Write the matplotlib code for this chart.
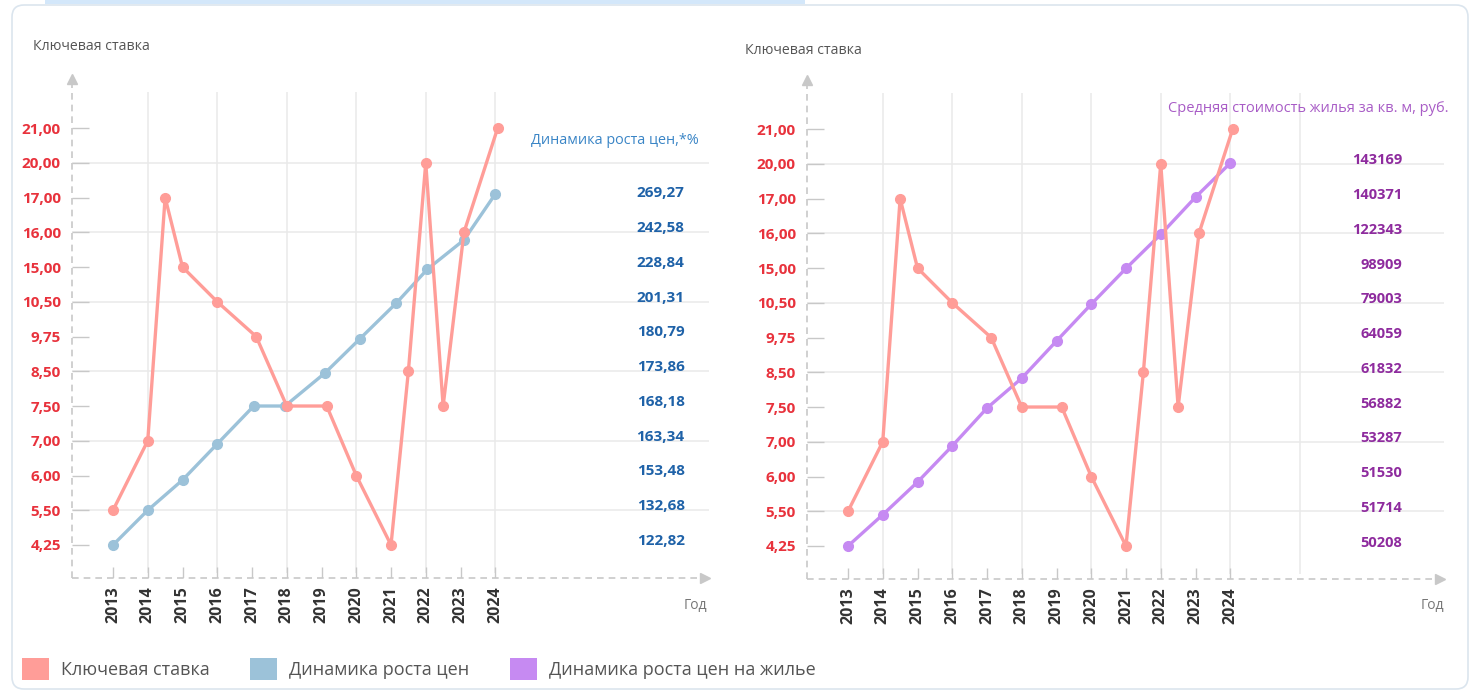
import matplotlib
matplotlib.use("Agg")
import matplotlib.pyplot as plt
from matplotlib.patches import FancyBboxPatch, Rectangle, Patch

plt.rcParams["font.family"] = ["Open Sans", "DejaVu Sans"]

# Category levels of the key-rate axis (evenly spaced, bottom to top)
level_values = [4.25, 5.50, 6.00, 7.00, 7.50, 8.50, 9.75, 10.50, 15.00, 16.00, 17.00, 20.00, 21.00]
level_labels = ["4,25", "5,50", "6,00", "7,00", "7,50", "8,50", "9,75", "10,50",
                "15,00", "16,00", "17,00", "20,00", "21,00"]
years = list(range(2013, 2025))

# Key rate changes (time position, rate)
key_x = [2013.0, 2014.0, 2014.5, 2015.0, 2016.0, 2017.12, 2018.0, 2019.15,
         2020.0, 2021.0, 2021.5, 2022.0, 2022.5, 2023.1, 2024.07]
key_rate = [5.50, 7.00, 17.00, 15.00, 10.50, 9.75, 7.50, 7.50,
            6.00, 4.25, 8.50, 20.00, 7.50, 16.00, 21.00]

# Price growth dynamics, plotted position on the level scale
price_x = [2013, 2014, 2015, 2016, 2017.05, 2017.95, 2019.1, 2020.1, 2021.15, 2022.05, 2023.1, 2024.0]
price_pos = [0.0, 1.0, 1.87, 2.91, 4.0, 4.0, 4.95, 5.93, 6.96, 7.94, 8.78, 10.1]
price_labels = ["122,82", "132,68", "153,48", "163,34", "168,18", "173,86",
                "180,79", "201,31", "228,84", "242,58", "269,27"]

# Housing price dynamics, plotted position on the level scale
housing_x = years
housing_pos = [0.0, 0.9, 1.84, 2.88, 3.97, 4.83, 5.9, 6.96, 7.99, 8.97, 10.04, 11.02]
housing_labels = ["50208", "51714", "51530", "53287", "56882", "61832",
                  "64059", "79003", "98909", "122343", "140371", "143169"]

RED = "#ff9d98"
RED_TXT = "#e8323c"
BLUE = "#9cc2d9"
PURPLE = "#c68af2"
GRID = "#e9e9e9"
AXC = "#c8c8c8"

W, H = 1477, 691
fig = plt.figure(figsize=(W / 100, H / 100), dpi=100)

# card frame and top tab
fig.add_artist(FancyBboxPatch((0.12, 0.02), 14.56, 6.84, boxstyle="round,pad=0,rounding_size=0.12",
                              transform=fig.dpi_scale_trans, fc="none", ec="#dbe5ee", lw=1.2,
                              zorder=-5))
fig.add_artist(Rectangle((0.45, 6.87), 7.6, 0.06, transform=fig.dpi_scale_trans,
                         fc="#d3e7fa", ec="none", zorder=-5))

key_idx = [level_values.index(r) for r in key_rate]
xmin, xmax = 2011.82, 2030.3
ymin, ymax = -0.95, 13.7


def make_axes(left_px, bottom_px, top_px, grid_years):
    width_px = (xmax - xmin) * 34.75
    ax = fig.add_axes([left_px / W, 1 - bottom_px / H, width_px / W, (bottom_px - top_px) / H])
    ax.set_xlim(xmin, xmax)
    ax.set_ylim(ymin, ymax)
    for s in ax.spines.values():
        s.set_visible(False)
    ax.patch.set_alpha(0)
    # grid
    ax.hlines([1, 3, 5, 7, 9, 11], xmin, 2030.15, color=GRID, lw=1.1, clip_on=False, zorder=0)
    ax.vlines(grid_years, -0.8, 13.04, color=GRID, lw=1.1, zorder=0)
    ax.vlines(years, ymin, -0.62, color=AXC, lw=1.0, zorder=1)
    # dashed axes with arrows
    ax.plot([xmin, xmin], [ymin, 13.3], ls=(0, (4, 3)), color=AXC, lw=1.2, clip_on=False)
    ax.plot([xmin], [13.42], marker="^", ms=7, color=AXC, clip_on=False)
    ax.plot([xmin, 2029.9], [ymin, ymin], ls=(0, (4, 3)), color=AXC, lw=1.2, clip_on=False)
    ax.plot([2030.05], [ymin], marker=">", ms=7, color=AXC, clip_on=False)
    # ticks
    ax.set_yticks(range(len(level_labels)))
    ax.set_yticklabels(level_labels, color=RED_TXT, fontweight="bold", fontsize=11)
    ax.tick_params(axis="y", direction="in", length=12, color=AXC, width=1, pad=8)
    ax.set_xticks(years)
    ax.set_xticklabels([str(y) for y in years], rotation=90, fontweight="bold",
                       fontsize=11.5, color="#333333")
    ax.tick_params(axis="x", length=0, pad=6)
    # key rate
    ax.plot(key_x, key_idx, color=RED, lw=2.4, marker="o", ms=7, zorder=4, clip_on=False)
    return ax


ax1 = make_axes(72, 578, 69, list(range(2014, 2025, 2)))
ax1.plot(price_x, price_pos, color=BLUE, lw=2.4, marker="o", ms=7, zorder=3)
for i, lab in enumerate(price_labels):
    ax1.text(2029.45, i + 0.12, lab, ha="right", va="center", fontsize=11,
             fontweight="bold", color="#1f62a8")
ax1.text(2029.86, 11.63, "Динамика роста цен,*%", ha="right", va="center",
         fontsize=10.4, color="#3a85c6")

ax2 = make_axes(807, 579, 70, list(range(2014, 2027, 2)))
ax2.plot(housing_x, housing_pos, color=PURPLE, lw=2.4, marker="o", ms=7, zorder=3)
for i, lab in enumerate(housing_labels):
    ax2.text(2028.95, i + 0.1, lab, ha="right", va="center", fontsize=10.5,
             fontweight="bold", color="#8e2b9e")
ax2.text(2030.27, 12.58, "Средняя стоимость жилья за кв. м, руб.", ha="right", va="center",
         fontsize=10.5, color="#a85cc6")

for x0, y0 in [(33, 47), (745, 50)]:
    fig.text(x0 / W, 1 - y0 / H, "Ключевая ставка", ha="left", va="center",
             fontsize=10.2, color="#555555")
for xc in [695, 1432]:
    fig.text(xc / W, 1 - 606 / H, "Год", ha="center", va="center", fontsize=10, color="#777777")

handles = [Patch(fc=RED, ec="none"), Patch(fc=BLUE, ec="none"), Patch(fc=PURPLE, ec="none")]
fig.legend(handles, ["Ключевая ставка", "Динамика роста цен", "Динамика роста цен на жилье"],
           loc="center left", bbox_to_anchor=(22 / W, 1 - 669 / H), ncol=3, frameon=False,
           fontsize=13, handlelength=1.5, handleheight=1.5, handletextpad=0.65,
           columnspacing=2.25, borderaxespad=0, borderpad=0, labelcolor="#555555")

fig.savefig("out.png", dpi=100)
